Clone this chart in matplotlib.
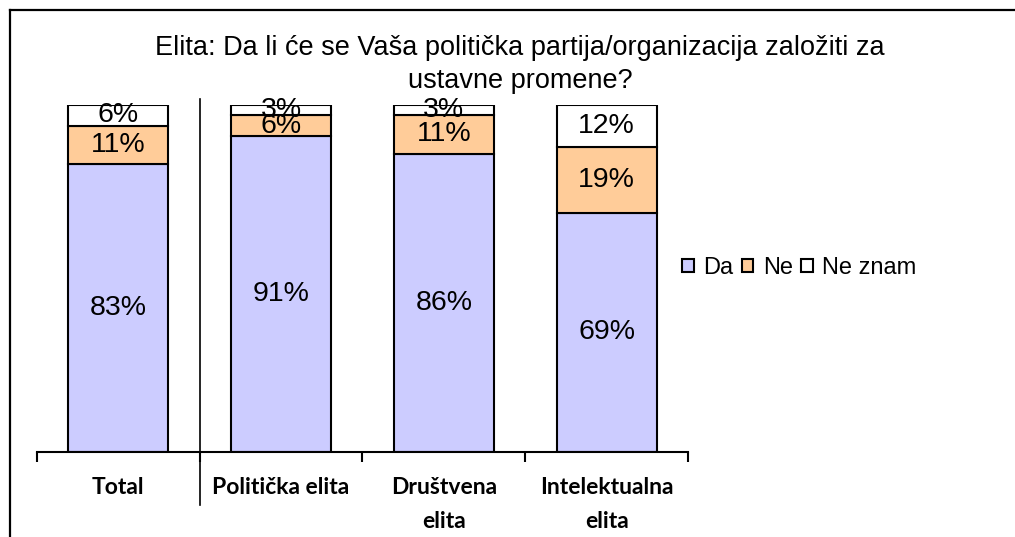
# -*- coding:utf-8 -*-

"""
    Elita: stav prema ustavnim promenama (stacked bar)
"""

import matplotlib
matplotlib.use('Agg')
import matplotlib.pyplot as plt
from matplotlib.lines import Line2D
from matplotlib.patches import Patch

# podaci
categories = ['Total', 'Politička elita', 'Društvena\nelita', 'Intelektualna\nelita']
da = [83, 91, 86, 69]
ne = [11, 6, 11, 19]
ne_znam = [6, 3, 3, 12]
series_names = ['Da', 'Ne', 'Ne znam']
colors = ['#CCCCFF', '#FFCC99', '#FFFFFF']

plt.rcParams['font.family'] = ['Liberation Sans', 'DejaVu Sans']

W, H = 1015, 537
fig = plt.figure(figsize=(W / 100, H / 100), dpi=100)

# okvir oko grafika (samo levo i gore)
fig.add_artist(Line2D([10 / W, 10 / W], [0, 1 - 10 / H], color='black', lw=1.6))
fig.add_artist(Line2D([10 / W, 1], [1 - 10 / H, 1 - 10 / H], color='black', lw=1.6))

ax = fig.add_axes([37 / W, 1 - 452 / H, 651 / W, 347 / H])

x = list(range(len(categories)))
bw = 0.615
bottom = [0] * len(x)
for vals, name, c in zip([da, ne, ne_znam], series_names, colors):
    bars = ax.bar(x, vals, bw, bottom=bottom, color=c, edgecolor='black', linewidth=1.5, label=name)
    for b, v, b0 in zip(bars, vals, bottom):
        ax.text(b.get_x() + b.get_width() / 2, b0 + v / 2, '%d%%' % v,
                ha='center', va='center', fontsize=20.5)
    bottom = [b0 + v for b0, v in zip(bottom, vals)]

ax.set_xlim(-0.5, len(x) - 0.5)
ax.set_ylim(0, 100)
for s in ['top', 'right', 'left']:
    ax.spines[s].set_visible(False)
ax.spines['bottom'].set_linewidth(1.5)
ax.set_yticks([])

# oznake kategorija
ax.set_xticks(x)
ax.set_xticklabels(categories, fontsize=16.5, fontweight='bold', family=['Lato', 'DejaVu Sans'],
                   linespacing=1.75, va='top')
ax.tick_params(axis='x', which='major', length=0, pad=18)
ax.set_xticks([i - 0.5 for i in range(len(x) + 1)], minor=True)
ax.tick_params(axis='x', which='minor', length=7, width=1.5, direction='out')

# linija koja odvaja Total od ostalih
ax.plot([0.5, 0.5], [101.7, -15.3], color='black', lw=1.2, clip_on=False)

# naslov
fig.text(520 / W, 1 - 48 / H, 'Elita: Da li će se Vaša politička partija/organizacija založiti za',
         ha='center', va='center', fontsize=19.5)
fig.text(520 / W, 1 - 81 / H, 'ustavne promene?', ha='center', va='center', fontsize=19.5)

# legenda
handles = [Patch(facecolor=c, edgecolor='black', linewidth=1.5) for c in colors]
fig.legend(handles, series_names, loc='center left', bbox_to_anchor=(682 / W, 1 - 268 / H),
           ncol=3, frameon=False, fontsize=17, handlelength=0.5, handleheight=0.5,
           handletextpad=0.4, columnspacing=0.35, borderaxespad=0, borderpad=0)

fig.savefig('out.png', dpi=100)
